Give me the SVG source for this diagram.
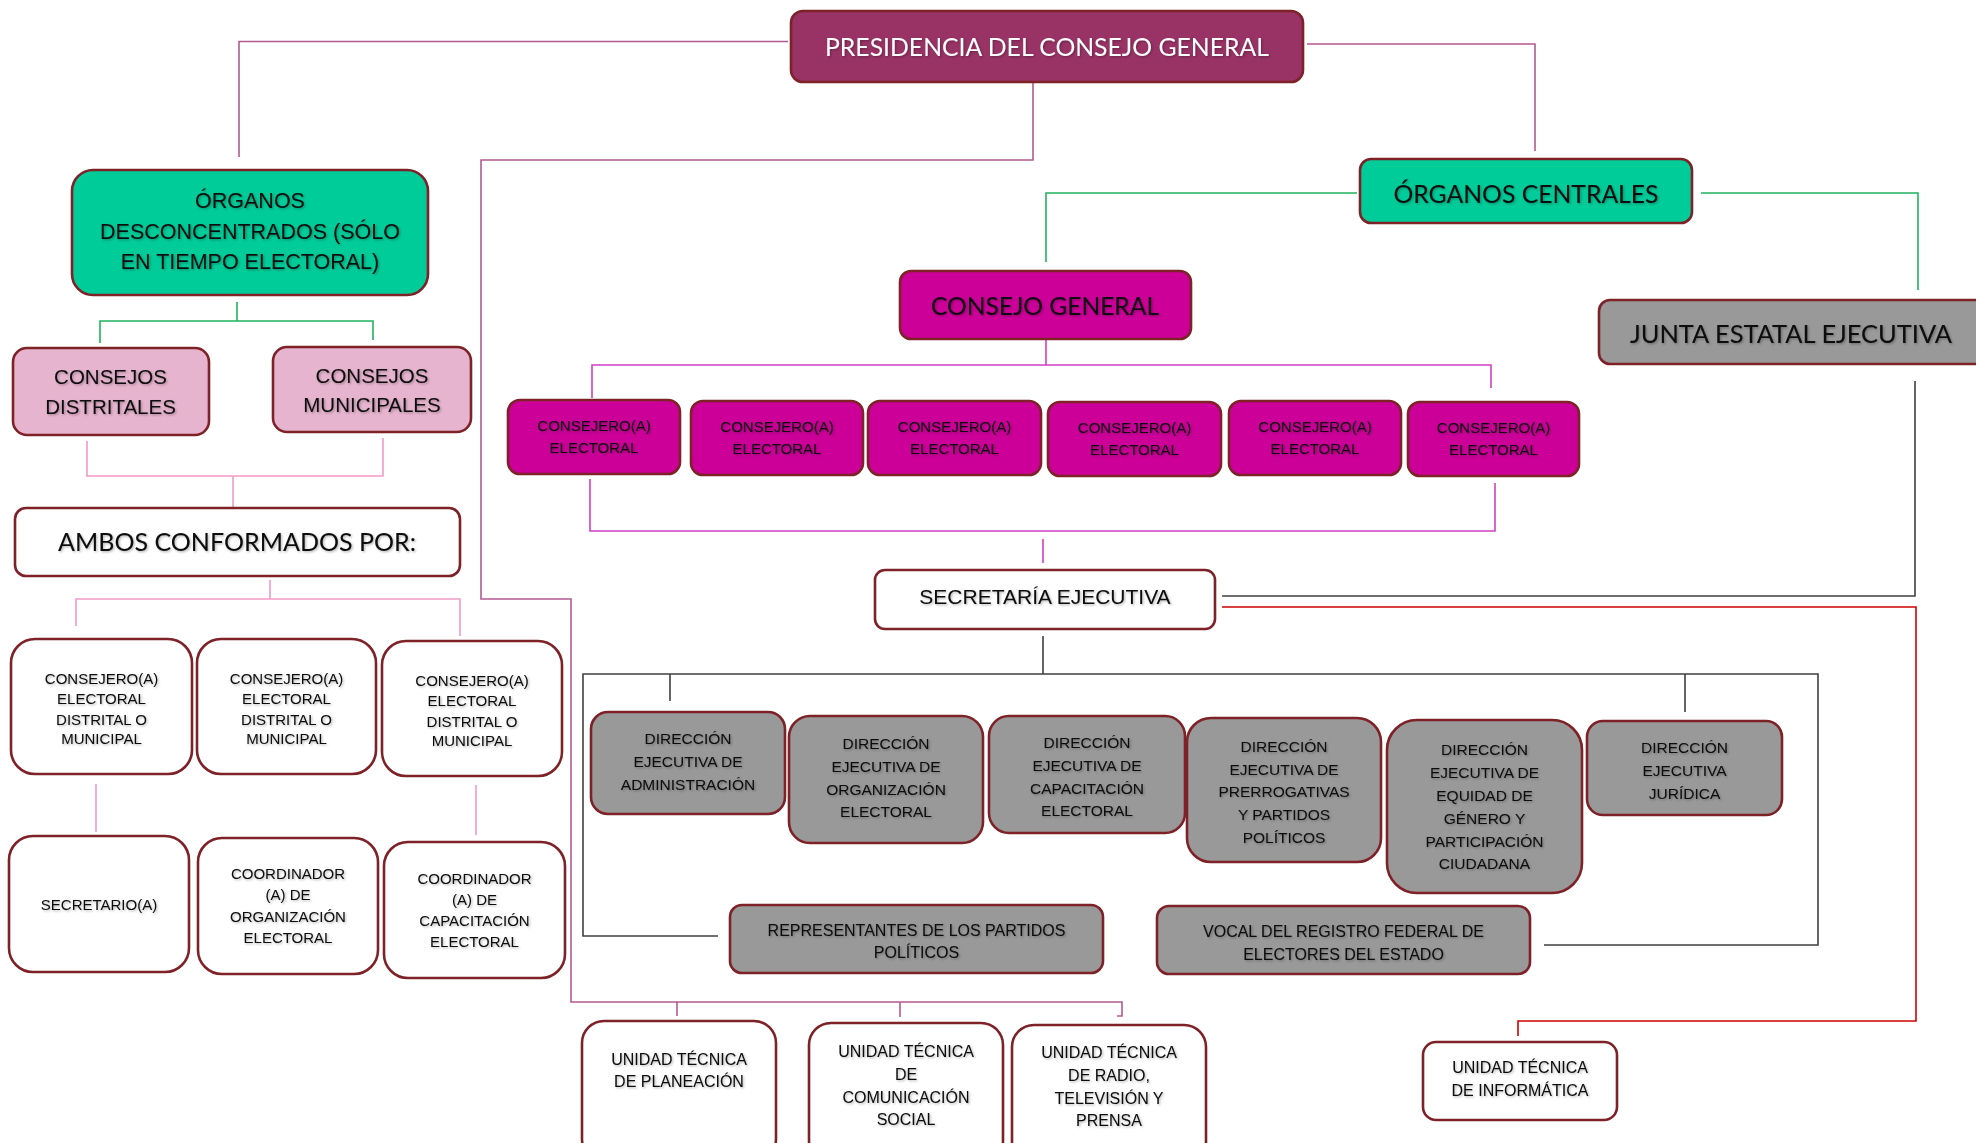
<svg xmlns="http://www.w3.org/2000/svg" width="1976" height="1143" viewBox="0 0 1976 1143">
  <defs>
    <!-- soft shadow under the labels -->
    <filter id="txtShadow" x="-10%" y="-30%" width="120%" height="160%">
      <feDropShadow dx="1.2" dy="1.2" stdDeviation="0.9" flood-color="#000000" flood-opacity="0.3"/>
    </filter>
  </defs>
  <style>
    .box { stroke: #7e2228; stroke-width: 2.6; }
    .white { fill: #ffffff; }
    .green { fill: #00cc99; }
    .pink { fill: #e6b4ce; }
    .magenta { fill: #cc0099; }
    .maroon { fill: #993366; }
    .gray { fill: #999999; }
    text { filter: url(#txtShadow); }
    .t { font-family: "Liberation Sans", Arial, sans-serif; fill: #0a0a0a; text-anchor: middle; }
    .title { font-family: Lato, "Open Sans", sans-serif; fill: #0a0a0a; text-anchor: middle; font-size: 25.5px; }
    .s15 { font-size: 15px; }
    .s155 { font-size: 15.5px; }
    .s16 { font-size: 16px; }
    .s205 { font-size: 20.5px; }
    .s21 { font-size: 21px; }
    .s215 { font-size: 21.5px; }
    .c { fill: none; stroke-width: 1.6; }
    .mauve { stroke: #b35a91; }
    .grn { stroke: #1fb45f; }
    .lpink { stroke: #f39ac9; }
    .mag { stroke: #d040c4; }
    .dark { stroke: #404040; }
    .red { stroke: #d00000; }
  </style>

  <!-- connectors -->
  <g id="connectors">
    <!-- from the presidency -->
    <path class="c mauve" d="M788 41.5 H239 V157"/>
    <path class="c mauve" d="M1307 44 H1535 V151"/>
    <path class="c mauve" d="M1033 83 V160 H481 V599 H571 V1002 H1122 V1016 H1117"/>
    <path class="c mauve" d="M677 1002 V1016 M900 1002 V1017"/>
    <!-- deconcentrated bodies -->
    <path class="c grn" d="M237 302 V321 M100 343 V321 H373 V340"/>
    <path class="c lpink" d="M87 441 V476 H383 V438 M233 476 V508"/>
    <path class="c lpink" d="M270 580 V599 M76 626 V599 H460 V636"/>
    <path class="c lpink" d="M96 784 V832 M476 785 V835"/>
    <!-- central bodies -->
    <path class="c grn" d="M1357 193 H1046 V262"/>
    <path class="c grn" d="M1701 193 H1918 V290"/>
    <path class="c mag" d="M1046 340 V365 M592 398 V365 H1491 V388"/>
    <path class="c mag" d="M590 479 V531 H1495 V483 M1043 539 V563"/>
    <!-- executive secretariat -->
    <path class="c dark" d="M1915 381 V596 H1222"/>
    <path class="c red" d="M1222 607 H1916 V1021 H1518 V1036"/>
    <path class="c dark" d="M1043 636 V674 M718 936 H583 V674 H1818 V945 H1544"/>
    <path class="c dark" d="M670 674 V701 M1685 674 V712"/>
  </g>

  <!-- top -->
  <g id="presidencia">
    <rect class="box maroon" x="791" y="11" width="512" height="71" rx="12"/>
    <text class="title" x="1047" y="55.5" textLength="444" lengthAdjust="spacingAndGlyphs" style="fill:#ffffff">PRESIDENCIA DEL CONSEJO GENERAL</text>
  </g>

  <!-- left branch -->
  <g id="organos-desconcentrados">
    <rect class="box green" x="72" y="170" width="356" height="125" rx="21"/>
    <text class="t s215" x="250" y="207.5">ÓRGANOS</text>
    <text class="t s215" x="250" y="238.5">DESCONCENTRADOS (SÓLO</text>
    <text class="t s215" x="250" y="268.5">EN TIEMPO ELECTORAL)</text>
  </g>
  <g id="consejos-distritales">
    <rect class="box pink" x="13" y="348" width="196" height="87" rx="14"/>
    <text class="t s205" x="110.5" y="384">CONSEJOS</text>
    <text class="t s205" x="110.5" y="414">DISTRITALES</text>
  </g>
  <g id="consejos-municipales">
    <rect class="box pink" x="273" y="347" width="198" height="85" rx="14"/>
    <text class="t s205" x="372" y="383">CONSEJOS</text>
    <text class="t s205" x="372" y="412">MUNICIPALES</text>
  </g>
  <g id="ambos">
    <rect class="box white" x="15" y="508" width="445" height="68" rx="11"/>
    <text class="title" x="237" y="551" textLength="358" lengthAdjust="spacingAndGlyphs">AMBOS CONFORMADOS POR:</text>
  </g>
  <g id="consejero-local-1">
    <rect class="box white" x="11" y="639" width="181" height="135" rx="24"/>
    <text class="t s15" x="101.5" y="683.5">CONSEJERO(A)</text>
    <text class="t s15" x="101.5" y="704">ELECTORAL</text>
    <text class="t s15" x="101.5" y="724.5">DISTRITAL O</text>
    <text class="t s15" x="101.5" y="744">MUNICIPAL</text>
  </g>
  <g id="consejero-local-2">
    <rect class="box white" x="197" y="639" width="179" height="135" rx="24"/>
    <text class="t s15" x="286.5" y="683.5">CONSEJERO(A)</text>
    <text class="t s15" x="286.5" y="704">ELECTORAL</text>
    <text class="t s15" x="286.5" y="724.5">DISTRITAL O</text>
    <text class="t s15" x="286.5" y="744">MUNICIPAL</text>
  </g>
  <g id="consejero-local-3">
    <rect class="box white" x="382" y="641" width="180" height="135" rx="24"/>
    <text class="t s15" x="472" y="685.5">CONSEJERO(A)</text>
    <text class="t s15" x="472" y="706">ELECTORAL</text>
    <text class="t s15" x="472" y="726.5">DISTRITAL O</text>
    <text class="t s15" x="472" y="746">MUNICIPAL</text>
  </g>
  <g id="secretario-local">
    <rect class="box white" x="9" y="836" width="180" height="136" rx="24"/>
    <text class="t s15" x="99" y="909.5">SECRETARIO(A)</text>
  </g>
  <g id="coordinador-organizacion">
    <rect class="box white" x="198" y="838" width="180" height="136" rx="24"/>
    <text class="t s15" x="288" y="878.5">COORDINADOR</text>
    <text class="t s15" x="288" y="900">(A) DE</text>
    <text class="t s15" x="288" y="921.5">ORGANIZACIÓN</text>
    <text class="t s15" x="288" y="943">ELECTORAL</text>
  </g>
  <g id="coordinador-capacitacion">
    <rect class="box white" x="384" y="842" width="181" height="136" rx="24"/>
    <text class="t s15" x="474.5" y="883.5">COORDINADOR</text>
    <text class="t s15" x="474.5" y="904.5">(A) DE</text>
    <text class="t s15" x="474.5" y="925.5">CAPACITACIÓN</text>
    <text class="t s15" x="474.5" y="946.5">ELECTORAL</text>
  </g>

  <!-- central branch -->
  <g id="organos-centrales">
    <rect class="box green" x="1360" y="159" width="332" height="64" rx="11"/>
    <text class="title" x="1526" y="203" textLength="265" lengthAdjust="spacingAndGlyphs">ÓRGANOS CENTRALES</text>
  </g>
  <g id="consejo-general">
    <rect class="box magenta" x="900" y="271" width="291" height="68" rx="11"/>
    <text class="title" x="1045" y="315" textLength="228" lengthAdjust="spacingAndGlyphs">CONSEJO GENERAL</text>
  </g>
  <g id="junta-estatal">
    <rect class="box gray" x="1599" y="300" width="400" height="64" rx="11"/>
    <text class="title" x="1791" y="343" textLength="322" lengthAdjust="spacingAndGlyphs">JUNTA ESTATAL EJECUTIVA</text>
  </g>
  <g id="consejero-1">
    <rect class="box magenta" x="508" y="400" width="172" height="74" rx="12"/>
    <text class="t s15" x="594" y="430.5">CONSEJERO(A)</text>
    <text class="t s15" x="594" y="452.5">ELECTORAL</text>
  </g>
  <g id="consejero-2">
    <rect class="box magenta" x="691" y="401" width="172" height="74" rx="12"/>
    <text class="t s15" x="777" y="431.5">CONSEJERO(A)</text>
    <text class="t s15" x="777" y="453.5">ELECTORAL</text>
  </g>
  <g id="consejero-3">
    <rect class="box magenta" x="868" y="401" width="173" height="74" rx="12"/>
    <text class="t s15" x="954.5" y="431.5">CONSEJERO(A)</text>
    <text class="t s15" x="954.5" y="453.5">ELECTORAL</text>
  </g>
  <g id="consejero-4">
    <rect class="box magenta" x="1048" y="402" width="173" height="74" rx="12"/>
    <text class="t s15" x="1134.5" y="432.5">CONSEJERO(A)</text>
    <text class="t s15" x="1134.5" y="454.5">ELECTORAL</text>
  </g>
  <g id="consejero-5">
    <rect class="box magenta" x="1229" y="401" width="172" height="74" rx="12"/>
    <text class="t s15" x="1315" y="431.5">CONSEJERO(A)</text>
    <text class="t s15" x="1315" y="453.5">ELECTORAL</text>
  </g>
  <g id="consejero-6">
    <rect class="box magenta" x="1408" y="402" width="171" height="74" rx="12"/>
    <text class="t s15" x="1493.5" y="432.5">CONSEJERO(A)</text>
    <text class="t s15" x="1493.5" y="454.5">ELECTORAL</text>
  </g>
  <g id="secretaria-ejecutiva">
    <rect class="box white" x="875" y="570" width="340" height="59" rx="10"/>
    <text class="t s21" x="1045" y="603.5">SECRETARÍA EJECUTIVA</text>
  </g>

  <!-- executive directorates -->
  <g id="dir-administracion">
    <rect class="box gray" x="591" y="712" width="194" height="102" rx="17"/>
    <text class="t s155" x="688" y="743.5">DIRECCIÓN</text>
    <text class="t s155" x="688" y="766.5">EJECUTIVA DE</text>
    <text class="t s155" x="688" y="789.5">ADMINISTRACIÓN</text>
  </g>
  <g id="dir-organizacion">
    <rect class="box gray" x="789" y="716" width="194" height="127" rx="21"/>
    <text class="t s155" x="886" y="748.5">DIRECCIÓN</text>
    <text class="t s155" x="886" y="771.5">EJECUTIVA DE</text>
    <text class="t s155" x="886" y="794.5">ORGANIZACIÓN</text>
    <text class="t s155" x="886" y="816.5">ELECTORAL</text>
  </g>
  <g id="dir-capacitacion">
    <rect class="box gray" x="989" y="716" width="196" height="117" rx="20"/>
    <text class="t s155" x="1087" y="747.5">DIRECCIÓN</text>
    <text class="t s155" x="1087" y="770.5">EJECUTIVA DE</text>
    <text class="t s155" x="1087" y="793.5">CAPACITACIÓN</text>
    <text class="t s155" x="1087" y="815.5">ELECTORAL</text>
  </g>
  <g id="dir-prerrogativas">
    <rect class="box gray" x="1187" y="718" width="194" height="144" rx="24"/>
    <text class="t s155" x="1284" y="751.5">DIRECCIÓN</text>
    <text class="t s155" x="1284" y="774.5">EJECUTIVA DE</text>
    <text class="t s155" x="1284" y="797">PRERROGATIVAS</text>
    <text class="t s155" x="1284" y="819.5">Y PARTIDOS</text>
    <text class="t s155" x="1284" y="842.5">POLÍTICOS</text>
  </g>
  <g id="dir-equidad">
    <rect class="box gray" x="1387" y="720" width="195" height="173" rx="30"/>
    <text class="t s155" x="1484.5" y="754.5">DIRECCIÓN</text>
    <text class="t s155" x="1484.5" y="777.5">EJECUTIVA DE</text>
    <text class="t s155" x="1484.5" y="800.5">EQUIDAD DE</text>
    <text class="t s155" x="1484.5" y="823.5">GÉNERO Y</text>
    <text class="t s155" x="1484.5" y="846.5">PARTICIPACIÓN</text>
    <text class="t s155" x="1484.5" y="869">CIUDADANA</text>
  </g>
  <g id="dir-juridica">
    <rect class="box gray" x="1587" y="721" width="195" height="94" rx="16"/>
    <text class="t s155" x="1684.5" y="752.5">DIRECCIÓN</text>
    <text class="t s155" x="1684.5" y="775.5">EJECUTIVA</text>
    <text class="t s155" x="1684.5" y="798.5">JURÍDICA</text>
  </g>
  <g id="representantes">
    <rect class="box gray" x="730" y="905" width="373" height="68" rx="12"/>
    <text class="t s16" x="916.5" y="935.5">REPRESENTANTES DE LOS PARTIDOS</text>
    <text class="t s16" x="916.5" y="958">POLÍTICOS</text>
  </g>
  <g id="vocal-registro">
    <rect class="box gray" x="1157" y="906" width="373" height="68" rx="12"/>
    <text class="t s16" x="1343.5" y="936.5">VOCAL DEL REGISTRO FEDERAL DE</text>
    <text class="t s16" x="1343.5" y="959.5">ELECTORES DEL ESTADO</text>
  </g>

  <!-- technical units -->
  <g id="ut-planeacion">
    <rect class="box white" x="582" y="1021" width="194" height="140" rx="22"/>
    <text class="t s16" x="679" y="1064.5">UNIDAD TÉCNICA</text>
    <text class="t s16" x="679" y="1086.5">DE PLANEACIÓN</text>
  </g>
  <g id="ut-comunicacion">
    <rect class="box white" x="809" y="1023" width="194" height="140" rx="22"/>
    <text class="t s16" x="906" y="1056.5">UNIDAD TÉCNICA</text>
    <text class="t s16" x="906" y="1079.5">DE</text>
    <text class="t s16" x="906" y="1102.5">COMUNICACIÓN</text>
    <text class="t s16" x="906" y="1124.5">SOCIAL</text>
  </g>
  <g id="ut-radio">
    <rect class="box white" x="1012" y="1025" width="194" height="140" rx="22"/>
    <text class="t s16" x="1109" y="1057.5">UNIDAD TÉCNICA</text>
    <text class="t s16" x="1109" y="1080.5">DE RADIO,</text>
    <text class="t s16" x="1109" y="1103.5">TELEVISIÓN Y</text>
    <text class="t s16" x="1109" y="1125.5">PRENSA</text>
  </g>
  <g id="ut-informatica">
    <rect class="box white" x="1423" y="1042" width="194" height="78" rx="13"/>
    <text class="t s16" x="1520" y="1072.5">UNIDAD TÉCNICA</text>
    <text class="t s16" x="1520" y="1095.5">DE INFORMÁTICA</text>
  </g>
</svg>
